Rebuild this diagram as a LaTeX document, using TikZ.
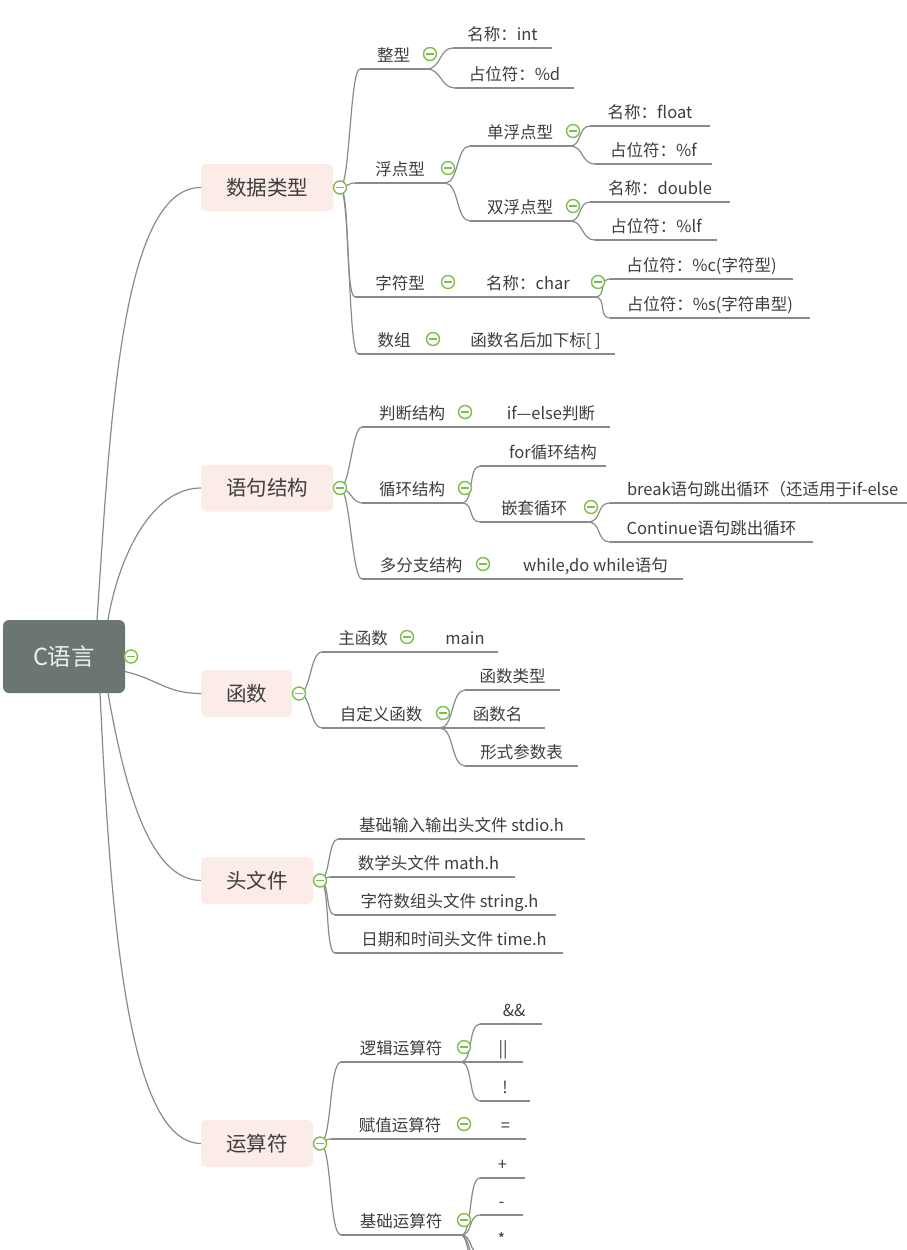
\documentclass[tikz,border=0pt]{standalone}
\usepackage{fontspec}
\newfontfamily\cjk{Noto Sans CJK SC}
\usepackage{tikz}

\definecolor{linegray}{HTML}{8A8A8A}
\definecolor{txtgray}{HTML}{3D3D3D}
\definecolor{boxpink}{HTML}{FCECE7}
\definecolor{rootgray}{HTML}{6B7572}
\definecolor{foldgreen}{HTML}{7CBF4E}

\tikzset{
    branch/.style={draw=linegray, line width=1.2pt},
    twig/.style={to path={.. controls +(#1,0) and +(-#1,0) .. (\tikztotarget)}},
    twig/.default=12,
    topic/.style={font=\cjk\fontsize{16.5}{19}\selectfont, text=txtgray, anchor=south west,
        inner xsep=0pt, inner ysep=5pt, outer sep=0pt, text depth=0.25em, minimum width=#1},
    lead/.style={execute at begin node={\hspace*{#1}}},
    mainbox/.style={fill=boxpink, rounded corners=5pt, font=\cjk\fontsize{20.5}{24}\selectfont,
        text=txtgray, minimum width=#1, minimum height=47pt, inner sep=0pt, outer sep=0pt},
    rootbox/.style={fill=rootgray, rounded corners=6pt, font=\cjk\fontsize{23.5}{27}\selectfont,
        text=white!94!black, minimum width=122pt, minimum height=73pt, inner sep=0pt, outer sep=0pt},
    fold/.style={circle, draw=foldgreen, fill=white, line width=1.4pt, minimum size=13pt, inner sep=0pt,
        path picture={\draw[foldgreen, line width=1.3pt]
            ([xshift=-3.8pt]path picture bounding box.center) -- ([xshift=3.8pt]path picture bounding box.center);}}
}

\begin{document}
\begin{tikzpicture}[x=1pt, y=-1pt]
    \useasboundingbox (0,0) rectangle (907,1250);
    \clip (0,0) rectangle (907,1250);

    % Root and main topics
    \node[rootbox] (root) at (64,656.5) {C语言};
    \node[mainbox=132pt] (data) at (267,187.5) {数据类型};
    \node[mainbox=132pt] (stmt) at (267,488) {语句结构};
    \node[mainbox=91pt] (func) at (246.5,693.5) {函数};
    \node[mainbox=112pt] (head) at (257,880.5) {头文件};
    \node[mainbox=112pt] (oper) at (257,1143.5) {运算符};

    \coordinate (data-s) at ([xshift=7pt]data.east);
    \coordinate (stmt-s) at ([xshift=7pt]stmt.east);
    \coordinate (func-s) at ([xshift=7pt]func.east);
    \coordinate (head-s) at ([xshift=7pt]head.east);
    \coordinate (oper-s) at ([xshift=7pt]oper.east);

    % Data types
    \node[topic=67pt] (int) at (360,69) {整型};
    \node[topic=99pt] (int-name) at (453,48) {名称：int};
    \node[topic=119pt] (int-fmt) at (455,88) {占位符：\%d};
    \node[topic=90pt] (flt) at (355,183) {浮点型};
    \node[topic=100pt] (single) at (470,146) {单浮点型};
    \node[topic=120pt] (single-name) at (590,126) {名称：float};
    \node[topic=117pt] (single-fmt) at (595,164) {占位符：\%f};
    \node[topic=100pt] (double) at (470,221) {双浮点型};
    \node[topic=140pt] (double-name) at (590,202) {名称：double};
    \node[topic=122pt] (double-fmt) at (595,240) {占位符：\%lf};
    \node[topic=90pt] (chr) at (355,297) {字符型};
    \node[topic=150pt, lead=16pt] (chr-name) at (445,297) {名称：char};
    \node[topic=183pt] (chr-c) at (610,279) {占位符：\%c(字符型)};
    \node[topic=200pt] (chr-s) at (610,318) {占位符：\%s(字符串型)};
    \node[topic=72pt] (arr) at (358,354) {数组};
    \node[topic=185pt, lead=26pt] (arr-idx) at (430,354) {函数名后加下标[ ]};

    % Statements
    \node[topic=100pt] (judge) at (362,427) {判断结构};
    \node[topic=148pt, lead=30pt] (ifelse) at (462,427) {if—else判断};
    \node[topic=100pt] (loop) at (362,503) {循环结构};
    \node[topic=126pt, lead=20pt] (for) at (480,466) {for循环结构};
    \node[topic=108pt] (nest) at (480,522) {嵌套循环};
    \node[topic=420pt, inner xsep=17pt, text width=386pt, align=left] (brk) at (610,503)
        {break语句跳出循环（还适用于if-else};
    \node[topic=203pt] (cont) at (610,542) {Continue语句跳出循环};
    \node[topic=118pt] (multi) at (362,579) {多分支结构};
    \node[topic=203pt, lead=28pt] (while) at (480,579) {while,do while语句};

    % Functions
    \node[topic=82pt] (main-fn) at (322,652) {主函数};
    \node[topic=94pt, lead=28pt] (main) at (404,652) {main};
    \node[topic=118pt] (custom) at (322,728) {自定义函数};
    \node[topic=95pt] (ftype) at (465,690) {函数类型};
    \node[topic=105pt, lead=10pt] (fname) at (440,728) {函数名};
    \node[topic=113pt] (fparam) at (465,766) {形式参数表};

    % Header files
    \node[topic=247pt] (stdio) at (338,839) {基础输入输出头文件 stdio.h};
    \node[topic=185pt, lead=12pt] (math) at (330,877) {数学头文件 math.h};
    \node[topic=221pt, lead=8pt] (string) at (335,915) {字符数组头文件 string.h};
    \node[topic=228pt, lead=10pt] (time) at (335,953) {日期和时间头文件 time.h};

    % Operators
    \node[topic=120pt] (logic) at (341,1062) {逻辑运算符};
    \node[topic=62pt, lead=6pt] (and) at (480,1024) {\&\&};
    \node[topic=62pt, lead=22pt] (or) at (461,1062) {||};
    \node[topic=50pt] (not) at (480,1101) {!};
    \node[topic=130pt, lead=8pt] (assign) at (331,1139) {赋值运算符};
    \node[topic=65pt, lead=24pt] (eq) at (461,1139) {=};
    \node[topic=120pt] (basic) at (341,1235) {基础运算符};
    \node[topic=45pt] (plus) at (480,1178) {+};
    \node[topic=43pt] (minus) at (480,1215) {-};
    \node[topic=43pt] (times) at (480,1253) {*};
    \coordinate (basic-more1) at (484,1290);
    \coordinate (basic-more2) at (484,1328);

    % Underlines
    \foreach \n in {int,int-name,int-fmt,flt,single,single-name,single-fmt,double,double-name,
        double-fmt,chr,chr-name,chr-c,chr-s,arr,arr-idx,judge,ifelse,loop,for,nest,brk,cont,
        multi,while,main-fn,main,custom,ftype,fname,fparam,stdio,math,string,time,
        logic,and,or,not,assign,eq,basic,plus,minus,times} {
        \draw[branch] (\n.south west) -- (\n.south east);
    }

    % Root to main topics
    \draw[branch] ([xshift=33pt]root.north) .. controls (110,430) and (120,187) .. (data.west);
    \draw[branch] ([xshift=44pt]root.north) .. controls (118,560) and (150,488) .. (stmt.west);
    \draw[branch] ([yshift=-15pt]root.east) .. controls (160,680) and (165,693) .. (func.west);
    \draw[branch] ([xshift=44pt]root.south) .. controls (125,790) and (150,880) .. (head.west);
    \draw[branch] ([xshift=36pt]root.south) .. controls (110,900) and (125,1143) .. (oper.west);

    % Data type branches
    \draw[branch] (data-s) to[twig=10] (int.south west);
    \draw[branch] (data-s) to[twig=8] (flt.south west);
    \draw[branch] (data-s) to[twig=10] (chr.south west);
    \draw[branch] (data-s) to[twig=10] (arr.south west);
    \draw[branch] (int.south east) to[twig=14] (int-name.south west);
    \draw[branch] (int.south east) to[twig=14] (int-fmt.south west);
    \draw[branch] (flt.south east) to[twig=14] (single.south west);
    \draw[branch] (flt.south east) to[twig=14] (double.south west);
    \draw[branch] (single.south east) to[twig=12] (single-name.south west);
    \draw[branch] (single.south east) to[twig=14] (single-fmt.south west);
    \draw[branch] (double.south east) to[twig=12] (double-name.south west);
    \draw[branch] (double.south east) to[twig=14] (double-fmt.south west);
    \draw[branch] (chr.south east) -- (chr-name.south west);
    \draw[branch] (chr-name.south east) to[twig=12] (chr-c.south west);
    \draw[branch] (chr-name.south east) to[twig=12] (chr-s.south west);
    \draw[branch] (arr.south east) -- (arr-idx.south west);

    % Statement branches
    \draw[branch] (stmt-s) to[twig=10] (judge.south west);
    \draw[branch] (stmt-s) to[twig=10] (loop.south west);
    \draw[branch] (stmt-s) to[twig=10] (multi.south west);
    \draw[branch] (judge.south east) -- (ifelse.south west);
    \draw[branch] (loop.south east) to[twig=12] (for.south west);
    \draw[branch] (loop.south east) to[twig=12] (nest.south west);
    \draw[branch] (nest.south east) to[twig=14] (brk.south west);
    \draw[branch] (nest.south east) to[twig=14] (cont.south west);
    \draw[branch] (multi.south east) -- (while.south west);

    % Function branches
    \draw[branch] (func-s) to[twig=12] (main-fn.south west);
    \draw[branch] (func-s) to[twig=12] (custom.south west);
    \draw[branch] (main-fn.south east) -- (main.south west);
    \draw[branch] (custom.south east) to[twig=14] (ftype.south west);
    \draw[branch] (custom.south east) -- (fname.south west);
    \draw[branch] (custom.south east) to[twig=14] (fparam.south west);

    % Header branches
    \draw[branch] (head-s) to[twig=10] (stdio.south west);
    \draw[branch] (head-s) to[twig=6] (math.south west);
    \draw[branch] (head-s) to[twig=10] (string.south west);
    \draw[branch] (head-s) to[twig=10] (time.south west);

    % Operator branches
    \draw[branch] (oper-s) to[twig=12] (logic.south west);
    \draw[branch] (oper-s) to[twig=8] (assign.south west);
    \draw[branch] (oper-s) to[twig=12] (basic.south west);
    \draw[branch] (logic.south east) to[twig=12] (and.south west);
    \draw[branch] (logic.south east) -- (or.south west);
    \draw[branch] (logic.south east) to[twig=12] (not.south west);
    \draw[branch] (assign.south east) -- (eq.south west);
    \draw[branch] (basic.south east) to[twig=12] (plus.south west);
    \draw[branch] (basic.south east) to[twig=12] (minus.south west);
    \draw[branch] (basic.south east) to[twig=12] (times.south west);
    \draw[branch] (basic.south east) to[twig=12] (basic-more1);
    \draw[branch] (basic.south east) to[twig=12] (basic-more2);

    % Fold markers
    \node[fold] (root-fold) at ([xshift=6pt]root.east) {};
    \foreach \n in {data,stmt,func,head,oper} {
        \node[fold] (\n-fold) at (\n-s) {};
    }
    \foreach \n in {int,flt,single,double,chr,chr-name,arr,judge,loop,nest,multi,
        main-fn,custom,logic,assign,basic} {
        \node[fold] (\n-fold) at ([xshift=3pt,yshift=15pt]\n.south east) {};
    }
\end{tikzpicture}
\end{document}
